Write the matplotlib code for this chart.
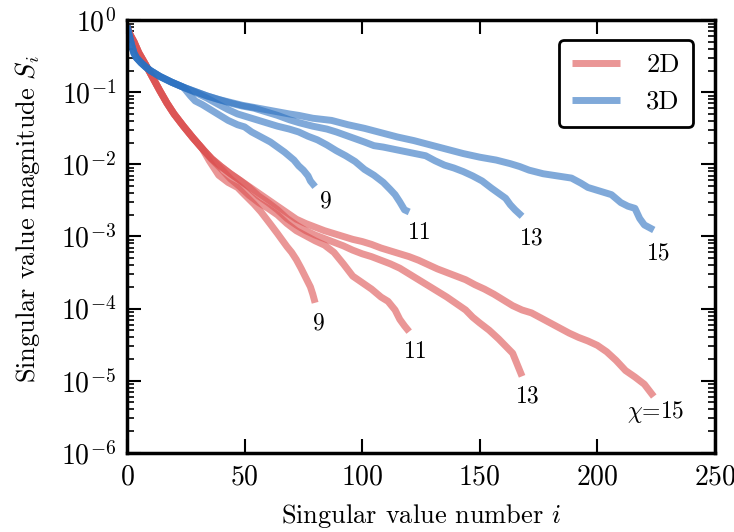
import numpy as np
import matplotlib
matplotlib.use("Agg")
import matplotlib.pyplot as plt
from matplotlib.ticker import NullLocator

plt.rcParams['font.family'] = 'serif'
plt.rcParams['font.serif'] = ['cmr10', 'DejaVu Serif']
plt.rcParams['mathtext.fontset'] = 'cm'
plt.rcParams['axes.formatter.use_mathtext'] = True

# singular values read off the figure as log10(S_i), sampled along i
# 2D, shared start of all bond dimensions
head_2d_i = [0, 1, 3, 5, 8, 11, 14, 17, 20, 24, 28, 32]
head_2d_s = [-0.08, -0.18, -0.3, -0.45, -0.62, -0.8, -0.98, -1.15, -1.3, -1.47, -1.63, -1.78]

tail_2d_9_i = [35, 39, 43, 47, 50, 54, 57, 61, 64, 68, 70, 72, 74, 76, 78, 79, 80]
tail_2d_9_s = [-1.95, -2.15, -2.25, -2.32, -2.42, -2.55, -2.66, -2.83, -2.96, -3.14, -3.22, -3.32,
               -3.44, -3.57, -3.70, -3.80, -3.92]

tail_2d_11_i = [36, 40, 44, 48, 52, 56, 60, 64, 68, 72, 76, 80, 84, 88, 92, 96, 100, 104, 108,
                111, 114, 116, 118, 120]
tail_2d_11_s = [-1.93, -2.06, -2.2, -2.31, -2.43, -2.53, -2.61, -2.7, -2.82, -2.92, -2.99, -3.06,
                -3.12, -3.22, -3.38, -3.55, -3.64, -3.73, -3.84, -3.9, -4.02, -4.15, -4.24, -4.32]

tail_2d_13_i = [36, 40, 44, 48, 52, 56, 60, 64, 68, 72, 76, 80, 84, 88, 92, 96, 100, 104, 108,
                112, 116, 120, 124, 128, 132, 136, 140, 144, 147, 150, 154, 158, 161, 164, 166, 168]
tail_2d_13_s = [-1.92, -2.03, -2.13, -2.22, -2.32, -2.44, -2.53, -2.63, -2.75, -2.84, -2.92, -2.98,
                -3.03, -3.08, -3.13, -3.19, -3.24, -3.28, -3.33, -3.38, -3.44, -3.52, -3.6, -3.68,
                -3.76, -3.84, -3.93, -4.02, -4.12, -4.2, -4.3, -4.42, -4.52, -4.62, -4.78, -4.94]

tail_2d_15_i = [36, 40, 44, 48, 52, 56, 60, 64, 68, 72, 76, 80, 84, 88, 92, 96, 100, 104, 108,
                112, 116, 120, 124, 128, 132, 136, 140, 144, 148, 152, 156, 160, 164, 168, 172,
                176, 180, 184, 188, 192, 196, 200, 204, 208, 212, 216, 220, 224]
tail_2d_15_s = [-1.92, -2.03, -2.13, -2.22, -2.31, -2.4, -2.49, -2.58, -2.67, -2.76, -2.82, -2.87,
                -2.92, -2.96, -3.0, -3.04, -3.07, -3.11, -3.16, -3.2, -3.24, -3.28, -3.33, -3.39,
                -3.45, -3.5, -3.55, -3.6, -3.67, -3.73, -3.8, -3.88, -3.96, -4.02, -4.06, -4.13,
                -4.2, -4.27, -4.34, -4.4, -4.45, -4.51, -4.6, -4.72, -4.86, -4.95, -5.05, -5.22]

# 3D, shared start
head_3d_i = [0, 1, 2, 3, 4, 6, 8, 10, 14, 19, 24]
head_3d_s = [-0.08, -0.22, -0.35, -0.46, -0.52, -0.59, -0.65, -0.7, -0.78, -0.86, -0.93]

tail_3d_9_i = [27, 29, 32, 36, 39, 43, 47, 50, 53, 57, 61, 64, 67, 71, 73, 75, 77, 78, 80]
tail_3d_9_s = [-1.05, -1.12, -1.17, -1.25, -1.31, -1.39, -1.45, -1.48, -1.55, -1.62, -1.69, -1.76,
               -1.83, -1.94, -2.02, -2.08, -2.16, -2.23, -2.31]

tail_3d_11_i = [29, 34, 39, 43, 47, 51, 55, 59, 64, 69, 73, 77, 81, 85, 89, 93, 97, 101, 105,
                109, 112, 114, 116, 118, 120]
tail_3d_11_s = [-1.0, -1.08, -1.17, -1.24, -1.3, -1.34, -1.38, -1.42, -1.47, -1.51, -1.55, -1.61,
                -1.66, -1.73, -1.81, -1.88, -1.96, -2.07, -2.15, -2.25, -2.35, -2.42, -2.52,
                -2.63, -2.66]

tail_3d_13_i = [29, 34, 39, 44, 49, 54, 59, 64, 69, 73, 79, 85, 89, 95, 101, 105, 109, 115, 121,
                127, 131, 135, 139, 143, 147, 151, 155, 158, 161, 163, 165, 168]
tail_3d_13_s = [-0.99, -1.05, -1.1, -1.15, -1.19, -1.22, -1.27, -1.32, -1.38, -1.42, -1.47, -1.51,
                -1.55, -1.62, -1.69, -1.74, -1.76, -1.8, -1.84, -1.88, -1.95, -2.01, -2.05, -2.1,
                -2.16, -2.23, -2.33, -2.4, -2.47, -2.56, -2.63, -2.72]

tail_3d_15_i = [29, 34, 39, 44, 49, 54, 59, 64, 69, 73, 79, 87, 94, 101, 108, 115, 122, 129, 136,
                143, 150, 157, 163, 167, 171, 177, 183, 189, 193, 196, 201, 206, 210, 213, 216,
                218, 220, 224]
tail_3d_15_s = [-0.99, -1.05, -1.1, -1.14, -1.18, -1.21, -1.24, -1.27, -1.3, -1.32, -1.36, -1.39,
                -1.45, -1.5, -1.56, -1.62, -1.67, -1.73, -1.79, -1.85, -1.9, -1.94, -1.99, -2.03,
                -2.08, -2.13, -2.16, -2.19, -2.26, -2.32, -2.37, -2.42, -2.53, -2.58, -2.61,
                -2.75, -2.84, -2.91]

chis = [9, 11, 13, 15]
tails_2d = {9: (tail_2d_9_i, tail_2d_9_s), 11: (tail_2d_11_i, tail_2d_11_s),
            13: (tail_2d_13_i, tail_2d_13_s), 15: (tail_2d_15_i, tail_2d_15_s)}
tails_3d = {9: (tail_3d_9_i, tail_3d_9_s), 11: (tail_3d_11_i, tail_3d_11_s),
            13: (tail_3d_13_i, tail_3d_13_s), 15: (tail_3d_15_i, tail_3d_15_s)}

# label positions (i, log10 S)
labels_2d = {9: (81.5, -4.21), 11: (123, -4.6), 13: (170.5, -5.22), 15: (225, -5.44)}
labels_3d = {9: (84.5, -2.52), 11: (124.5, -2.95), 13: (172, -3.03), 15: (226, -3.24)}

red = '#dc5050'
blue = '#2b71c1'

fig = plt.figure(figsize=(7.34, 5.32), dpi=100)
ax = fig.add_axes([0.173, 0.149, 0.801, 0.813])

for k, chi in enumerate(chis):
    ti, ts = tails_2d[chi]
    x = head_2d_i + ti
    y = 10 ** np.array(head_2d_s + ts)
    ax.plot(x, y, color=red, lw=5, alpha=0.6, label='2D' if k == 0 else None,
            solid_capstyle='butt')
for k, chi in enumerate(chis):
    ti, ts = tails_3d[chi]
    x = head_3d_i + ti
    y = 10 ** np.array(head_3d_s + ts)
    ax.plot(x, y, color=blue, lw=5, alpha=0.6, label='3D' if k == 0 else None,
            solid_capstyle='butt')

for chi in chis:
    lx, ly = labels_2d[chi]
    txt = r'$\chi$=%d' % chi if chi == 15 else str(chi)
    ax.text(lx, 10 ** ly, txt, fontsize=17, ha='center', va='center')
    lx, ly = labels_3d[chi]
    ax.text(lx, 10 ** ly, str(chi), fontsize=17, ha='center', va='center')

ax.set_yscale('log')
ax.set_xlim(0, 250)
ax.set_ylim(1e-6, 1)
ax.xaxis.set_minor_locator(NullLocator())
ax.tick_params(which='both', direction='in', top=True, right=True, labelsize=20)
ax.tick_params(which='major', length=10, width=1.5, pad=8)
ax.tick_params(which='minor', length=5, width=1.2)
for sp in ax.spines.values():
    sp.set_linewidth(2.5)

ax.set_xlabel(r'Singular value number $i$', fontsize=19)
ax.set_ylabel(r'Singular value magnitude $S_i$', fontsize=19)
ax.xaxis.set_label_coords(0.5, -0.115)
ax.yaxis.set_label_coords(-0.145, 0.54)

leg = ax.legend(loc='upper right', fontsize=19, handlelength=1.8, borderpad=0.5,
                labelspacing=0.5, handletextpad=1.0, bbox_to_anchor=(0.985, 0.985))
leg.get_frame().set_edgecolor('black')
leg.get_frame().set_linewidth(2)
leg.get_frame().set_alpha(1)

fig.savefig('out.png', dpi=100)
